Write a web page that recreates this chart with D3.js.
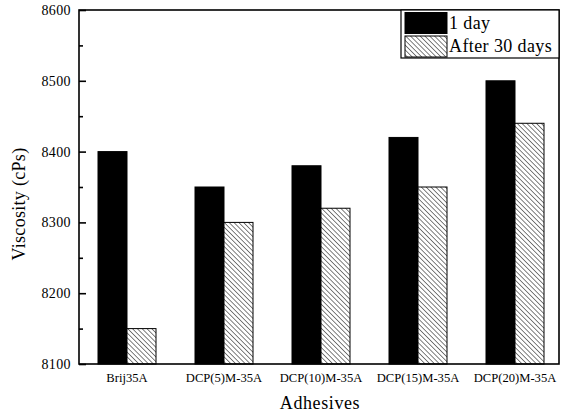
<!DOCTYPE html>
<html><head><meta charset="utf-8">
<script src="https://cdn.jsdelivr.net/npm/d3@7"></script>
<style>body{margin:0;background:#fff;}</style>
</head><body>
<svg id="c" width="564" height="416"></svg>
<script>
const categories = ["Brij35A","DCP(5)M-35A","DCP(10)M-35A","DCP(15)M-35A","DCP(20)M-35A"];
const seriesNames = ["1 day","After 30 days"];
const day1 = [8400,8350,8380,8420,8500];
const day30 = [8150,8300,8320,8350,8440];
const yTicks = [8100,8200,8300,8400,8500,8600];
const yMinor = [8150,8250,8350,8450,8550];

const FONT = "Liberation Serif";
const svg = d3.select("#c");
const L=79,R=559,T=10,B=364;
const y = d3.scaleLinear().domain([8100,8600]).range([B,T]);
const x0 = d3.scaleBand().domain(categories).range([78.5,563.5]).paddingInner(0).paddingOuter(0);
const x1 = d3.scaleBand().domain(seriesNames).range([x0.bandwidth()/2-29, x0.bandwidth()/2+29]);

const defs = svg.append("defs");
const pat = defs.append("pattern").attr("id","hatch").attr("patternUnits","userSpaceOnUse")
  .attr("width",3.4).attr("height",3.4).attr("patternTransform","rotate(45)");
pat.append("rect").attr("width",3.4).attr("height",3.4).attr("fill","#fff");
pat.append("line").attr("x1",0).attr("y1",0).attr("x2",3.4).attr("y2",0).attr("stroke","#000").attr("stroke-width",1);

const data = categories.map((c,i)=>({c, vals:[day1[i],day30[i]]}));
const g = svg.append("g");
g.selectAll("g.grp").data(data).join("g").attr("class","grp")
  .attr("transform",d=>`translate(${x0(d.c)},0)`)
  .selectAll("rect").data(d=>d.vals.map((v,j)=>({v,s:seriesNames[j],j})))
  .join("rect")
  .attr("x",d=>x1(d.s)).attr("width",x1.bandwidth())
  .attr("y",d=>y(d.v)).attr("height",d=>B-y(d.v))
  .attr("fill",d=>d.j===0?"#000":"url(#hatch)")
  .attr("stroke","#000").attr("stroke-width",1);

// frame
svg.append("rect").attr("x",L).attr("y",T).attr("width",R-L).attr("height",B-T)
  .attr("fill","none").attr("stroke","#000").attr("stroke-width",1.6);

// y axis ticks inward
const yAxis = d3.axisRight(y).tickValues(yTicks).tickSize(7).tickFormat("");
const ya = svg.append("g").attr("transform",`translate(${L},0)`).call(yAxis);
ya.select(".domain").remove();
ya.selectAll("line").attr("stroke-width",1.6);
const yAxisMinor = d3.axisRight(y).tickValues(yMinor).tickSize(4).tickFormat("");
const ym = svg.append("g").attr("transform",`translate(${L},0)`).call(yAxisMinor);
ym.select(".domain").remove();
ym.selectAll("line").attr("stroke-width",1.6);
svg.append("g").selectAll("text").data(yTicks).join("text")
  .attr("font-family",FONT)
  .attr("x",L-8).attr("y",d=>y(d)+5).attr("text-anchor","end")
  .attr("font-size",14).attr("letter-spacing",0.4).text(d=>d);

// x labels
svg.append("g").selectAll("text").data(categories).join("text")
  .attr("font-family",FONT)
  .attr("x",d=>x0(d)+x0.bandwidth()/2).attr("y",382).attr("text-anchor","middle")
  .attr("font-size",12.6).text(d=>d);

svg.append("text").attr("font-family",FONT).attr("x",320).attr("y",409).attr("text-anchor","middle").attr("font-size",18).attr("letter-spacing",0.6).text("Adhesives");
svg.append("text").attr("font-family",FONT).attr("transform",`translate(25,204) rotate(-90)`).attr("text-anchor","middle").attr("font-size",18).attr("letter-spacing",0.3).text("Viscosity (cPs)");

// legend
const lg = svg.append("g");
lg.append("rect").attr("x",401).attr("y",T).attr("width",R-401).attr("height",48).attr("fill","#fff").attr("stroke","#000").attr("stroke-width",1.2);
const items = seriesNames.map((s,i)=>({s,i}));
lg.selectAll("rect.sw").data(items).join("rect").attr("class","sw")
  .attr("x",405).attr("y",d=>12.5+d.i*23.5).attr("width",42).attr("height",21)
  .attr("fill",d=>d.i===0?"#000":"url(#hatch)").attr("stroke","#000").attr("stroke-width",1);
lg.selectAll("text").data(items).join("text")
  .attr("font-family",FONT)
  .attr("x",449).attr("y",d=>28.5+d.i*23.5).attr("font-size",18).attr("letter-spacing",0.4).text(d=>d.s);
</script>
</body></html>
